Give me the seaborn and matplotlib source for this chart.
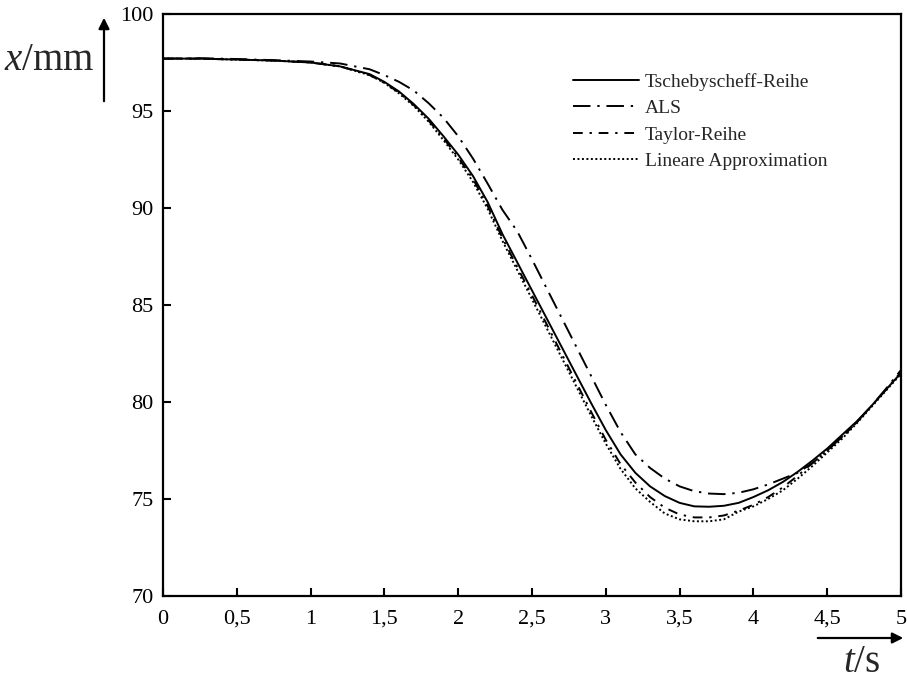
import numpy as np
import pandas as pd
import seaborn as sns
import matplotlib.pyplot as plt

t = [0, 0.25, 0.5, 0.75, 1.0, 1.2, 1.4, 1.5, 1.6, 1.7, 1.8, 1.9, 2.0, 2.1, 2.2,
     2.3, 2.4, 2.5, 2.6, 2.7, 2.8, 2.9, 3.0, 3.1, 3.2, 3.3, 3.4, 3.5, 3.6, 3.7,
     3.8, 3.9, 4.0, 4.1, 4.2, 4.3, 4.4, 4.5, 4.6, 4.7, 4.8, 4.9, 5.0]

tscheby = [97.70, 97.70, 97.65, 97.60, 97.50, 97.30, 96.90, 96.50, 96.00, 95.35,
           94.60, 93.70, 92.75, 91.65, 90.30, 88.65, 87.20, 85.75, 84.30, 82.85,
           81.40, 79.95, 78.55, 77.30, 76.35, 75.65, 75.15, 74.80, 74.62, 74.60,
           74.65, 74.80, 75.10, 75.45, 75.88, 76.40, 76.98, 77.60, 78.30, 79.00,
           79.80, 80.65, 81.50]

als = [97.70, 97.72, 97.68, 97.62, 97.55, 97.45, 97.15, 96.85, 96.50, 96.05,
       95.40, 94.65, 93.70, 92.55, 91.25, 89.90, 88.80, 87.35, 85.85, 84.35,
       82.85, 81.35, 79.85, 78.45, 77.30, 76.60, 76.05, 75.65, 75.40, 75.28,
       75.25, 75.32, 75.50, 75.75, 76.05, 76.35, 76.85, 77.50, 78.20, 78.95,
       79.80, 80.70, 81.65]

taylor = [97.70, 97.70, 97.65, 97.60, 97.50, 97.30, 96.85, 96.45, 95.95, 95.30,
          94.50, 93.60, 92.60, 91.50, 90.10, 88.45, 86.95, 85.50, 84.00, 82.50,
          81.00, 79.50, 78.05, 76.80, 75.85, 75.10, 74.55, 74.20, 74.05, 74.05,
          74.15, 74.40, 74.70, 75.10, 75.60, 76.20, 76.85, 77.50, 78.20, 78.95,
          79.80, 80.65, 81.55]

linear = [97.70, 97.70, 97.65, 97.60, 97.50, 97.30, 96.85, 96.45, 95.90, 95.25,
          94.45, 93.50, 92.50, 91.35, 89.95, 88.30, 86.80, 85.30, 83.80, 82.30,
          80.80, 79.30, 77.85, 76.55, 75.55, 74.85, 74.25, 73.95, 73.85, 73.85,
          73.95, 74.35, 74.62, 75.00, 75.45, 76.05, 76.70, 77.40, 78.10, 78.90,
          79.75, 80.60, 81.45]

x_ticks = [0, 0.5, 1, 1.5, 2, 2.5, 3, 3.5, 4, 4.5, 5]
x_ticklabels = ["0", "0,5", "1", "1,5", "2", "2,5", "3", "3,5", "4", "4,5", "5"]
y_ticks = [70, 75, 80, 85, 90, 95, 100]

sns.set_style("white")
plt.rcParams["font.family"] = ["Liberation Serif", "DejaVu Serif"]
plt.rcParams["mathtext.fontset"] = "custom"
plt.rcParams["mathtext.rm"] = "Liberation Serif"
plt.rcParams["mathtext.it"] = "Liberation Serif:italic"

df = pd.DataFrame({"t": t, "Tschebyscheff-Reihe": tscheby, "ALS": als,
                   "Taylor-Reihe": taylor, "Lineare Approximation": linear})

fig = plt.figure(figsize=(9.07, 6.83), dpi=100)
ax = fig.add_axes([0.1797, 0.1274, 0.8137, 0.8521])

styles = {
    "Tschebyscheff-Reihe": "-",
    "ALS": (0, (9, 3.5, 1.2, 3.5)),
    "Taylor-Reihe": (0, (5, 3.5, 1.2, 3.5)),
    "Lineare Approximation": (0, (1, 1.3)),
}
for name, ls in styles.items():
    sns.lineplot(data=df, x="t", y=name, ax=ax, color="black", linewidth=1.4,
                 linestyle=ls, label=name)

ax.set_xlim(0, 5)
ax.set_ylim(70, 100)
ax.set_xticks(x_ticks)
ax.set_xticklabels(x_ticklabels)
ax.set_yticks(y_ticks)
ax.set_xlabel("")
ax.set_ylabel("")
ax.tick_params(axis="both", direction="in", length=6, width=1.5, labelsize=16,
               colors="black", top=False, right=False)
ax.tick_params(axis="x", bottom=True, pad=10)
ax.tick_params(axis="y", left=True, pad=7)
for s in ax.spines.values():
    s.set_linewidth(1.6)
    s.set_color("black")

leg = ax.legend(loc="upper left", bbox_to_anchor=(0.545, 0.912), frameon=False,
                fontsize=14, handlelength=3.4, handletextpad=0.3,
                labelspacing=0.45, borderaxespad=0)

# Achsenpfeile und Beschriftungen
ax.annotate("", xy=(104 / 907, 1 - 15 / 683), xytext=(104 / 907, 1 - 104 / 683),
            xycoords="figure fraction", textcoords="figure fraction",
            arrowprops=dict(arrowstyle="-|>", color="black", lw=1.6,
                            mutation_scale=16))
ax.annotate("", xy=(906 / 907, 1 - 638 / 683), xytext=(815 / 907, 1 - 638 / 683),
            xycoords="figure fraction", textcoords="figure fraction",
            arrowprops=dict(arrowstyle="-|>", color="black", lw=1.6,
                            mutation_scale=16))
fig.text(4 / 907, 1 - 60 / 683, r"$x/\mathrm{mm}$", fontsize=28, va="center",
         ha="left")
fig.text(880 / 907, 1 - 662 / 683, r"$t/\mathrm{s}$", fontsize=28, va="center",
         ha="right")

fig.savefig("out.png", dpi=100)
